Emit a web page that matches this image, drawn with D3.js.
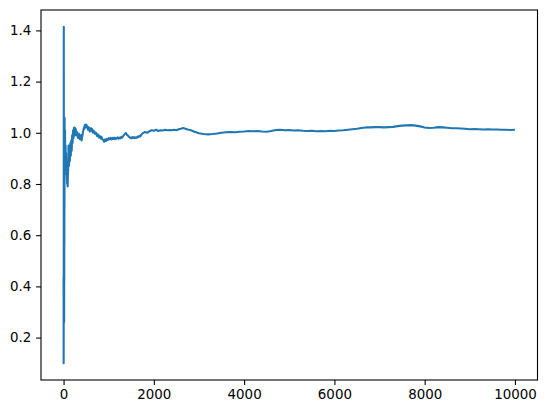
<!DOCTYPE html>
<html>
<head>
<meta charset="utf-8">
<script src="https://cdn.jsdelivr.net/npm/d3@7"></script>
<style>
  html, body { margin: 0; padding: 0; background: #fff; }
  svg { display: block; }
  .tick text { font-family: "DejaVu Sans", sans-serif; font-size: 13.4px; fill: #000; }
</style>
</head>
<body>
<svg id="chart" width="547" height="413"></svg>
<script>
// Running value (step, value)
const steps = [
  0, 1, 2, 3, 4, 5, 6, 7, 8, 9, 10, 11, 12, 13, 14, 15, 16, 17, 18, 19, 20,
  22, 25, 28, 32, 36, 40, 45, 50, 55, 60, 65, 70, 75, 80, 85, 90, 95,
  100, 110, 120, 130, 140, 150, 160, 170, 180, 190, 200, 210, 220, 230, 240, 250, 260, 270, 280, 290,
  300, 310, 320, 330, 340, 350, 360, 370, 380, 390, 400, 410, 420, 430, 440, 450, 460, 470, 480, 490,
  500, 510, 520, 530, 540, 550, 560, 570, 580, 590, 600, 610, 620, 630, 640, 650, 660, 680,
  700, 720, 740, 760, 780, 800, 820, 840, 860, 880, 900, 920, 940, 960, 980,
  1000, 1020, 1040, 1060, 1080, 1100, 1120, 1140, 1160, 1180, 1200, 1220, 1240, 1260, 1280,
  1300, 1320, 1340, 1360, 1380, 1400, 1420, 1440, 1460, 1480, 1500, 1520, 1540, 1560, 1580,
  1600, 1620, 1640, 1660, 1680, 1700, 1720, 1740, 1760, 1780, 1800, 1850, 1900, 1950,
  2000, 2050, 2100, 2150, 2200, 2250, 2300, 2350, 2400, 2450,
  2500, 2550, 2600, 2650, 2700, 2750, 2800, 2850, 2900, 2950,
  3000, 3100, 3200, 3300, 3400, 3500, 3600, 3700, 3800, 3900,
  4000, 4100, 4200, 4300, 4400, 4500, 4600, 4700, 4800, 4900,
  5000, 5100, 5200, 5300, 5400, 5500, 5600, 5700, 5800, 5900,
  6000, 6100, 6200, 6300, 6400, 6500, 6600, 6700, 6800, 6900,
  7000, 7100, 7200, 7300, 7400, 7500, 7600, 7700, 7800, 7900,
  8000, 8100, 8200, 8300, 8400, 8500, 8600, 8700, 8800, 8900,
  9000, 9100, 9200, 9300, 9400, 9500, 9600, 9700, 9800, 9900, 10000
];
const values = [
  0.44, 0.20, 0.10, 0.36, 0.62, 1.414, 0.70, 0.56, 0.42, 0.30, 0.58, 0.44, 0.68, 0.26, 0.60, 0.42, 0.70, 0.56, 0.64, 0.70, 0.72,
  1.06, 1.00, 0.93, 1.01, 0.90, 0.86, 0.95, 0.84, 0.92, 0.84, 0.88, 0.86, 0.82, 0.80, 0.84, 0.79, 0.83,
  0.85, 0.95, 0.87, 0.93, 0.89, 0.96, 0.91, 0.97, 0.93, 0.99, 0.96, 1.01, 0.98, 1.02, 0.99, 1.02, 1.0, 1.015, 0.99, 1.005,
  0.99, 1.0, 0.98, 0.995, 0.985, 0.995, 0.975, 0.99, 0.98, 0.99, 0.97, 0.985, 0.99, 1.005, 1.01, 1.02, 1.015, 1.03, 1.025, 1.032,
  1.022, 1.03, 1.02, 1.025, 1.012, 1.022, 1.012, 1.02, 1.005, 1.015, 1.008, 1.018, 1.01, 1.015, 1.004, 1.01, 1.0, 1.006,
  0.996, 1.0, 0.988, 0.994, 0.982, 0.988, 0.978, 0.984, 0.974, 0.972, 0.965, 0.974, 0.968, 0.976, 0.972,
  0.979, 0.975, 0.98, 0.974, 0.98, 0.976, 0.981, 0.975, 0.98, 0.977, 0.982, 0.977, 0.981, 0.978, 0.984,
  0.981, 0.988, 0.992, 0.996, 0.999, 0.993, 0.99, 0.986, 0.983, 0.98, 0.978, 0.983, 0.98, 0.983, 0.979,
  0.982, 0.98, 0.985, 0.983, 0.988, 0.986, 0.992, 0.996, 0.999, 1.001, 1.003, 1.0, 1.006, 1.01,
  1.008, 1.012, 1.007, 1.01, 1.009, 1.012, 1.01, 1.011, 1.01, 1.012,
  1.01, 1.014, 1.016, 1.019, 1.016, 1.013, 1.011, 1.008, 1.004, 1.001,
  0.998, 0.995, 0.994, 0.995, 0.997, 1.0, 1.002, 1.003, 1.002, 1.004,
  1.005, 1.007, 1.006, 1.007, 1.005, 1.004, 1.007, 1.011, 1.012, 1.01,
  1.011, 1.009, 1.01, 1.008, 1.007, 1.008, 1.006, 1.007, 1.006, 1.008,
  1.007, 1.009, 1.01, 1.012, 1.014, 1.016, 1.019, 1.021, 1.021, 1.022,
  1.022, 1.021, 1.022, 1.023, 1.026, 1.028, 1.029, 1.03, 1.028, 1.025,
  1.021, 1.019, 1.02, 1.022, 1.021, 1.02, 1.018, 1.018, 1.017, 1.016,
  1.014, 1.015, 1.014, 1.013, 1.014, 1.013, 1.013, 1.012, 1.012, 1.011, 1.012
];
const xTicks = [0, 2000, 4000, 6000, 8000, 10000];
const yTicks = [0.2, 0.4, 0.6, 0.8, 1.0, 1.2, 1.4];

const mLeft = 41, mRight = 537.5, mTop = 10, mBottom = 380;
const svg = d3.select("#chart");

const xMin = d3.min(steps), xMax = d3.max(steps);
const xPad = (xMax - xMin) * 0.05;
const yMin = d3.min(values), yMax = d3.max(values);
const yPad = (yMax - yMin) * 0.05;

const x = d3.scaleLinear().domain([xMin - xPad, xMax + xPad]).range([mLeft, mRight]);
const y = d3.scaleLinear().domain([yMin - yPad, yMax + yPad]).range([mBottom, mTop]);

const data = steps.map((s, i) => [s, values[i]]);

svg.append("path")
  .datum(data)
  .attr("fill", "none")
  .attr("stroke", "#1f77b4")
  .attr("stroke-width", 2.1)
  .attr("stroke-linejoin", "round")
  .attr("d", d3.line().x(d => x(d[0])).y(d => y(d[1])));

const xAxis = svg.append("g")
  .attr("transform", `translate(0,${mBottom})`)
  .call(d3.axisBottom(x).tickValues(xTicks).tickFormat(d3.format("d")).tickSize(4.9).tickPadding(4.9));
const yAxis = svg.append("g")
  .attr("transform", `translate(${mLeft},0)`)
  .call(d3.axisLeft(y).tickValues(yTicks).tickFormat(d3.format(".1f")).tickSize(4.9).tickPadding(4.9));
[xAxis, yAxis].forEach(g => {
  g.select(".domain").remove();
  g.selectAll(".tick line").attr("stroke", "#000").attr("stroke-width", 1.1);
});

svg.append("rect")
  .attr("x", mLeft).attr("y", mTop)
  .attr("width", mRight - mLeft).attr("height", mBottom - mTop)
  .attr("fill", "none").attr("stroke", "#000").attr("stroke-width", 1.1);
</script>
</body>
</html>
